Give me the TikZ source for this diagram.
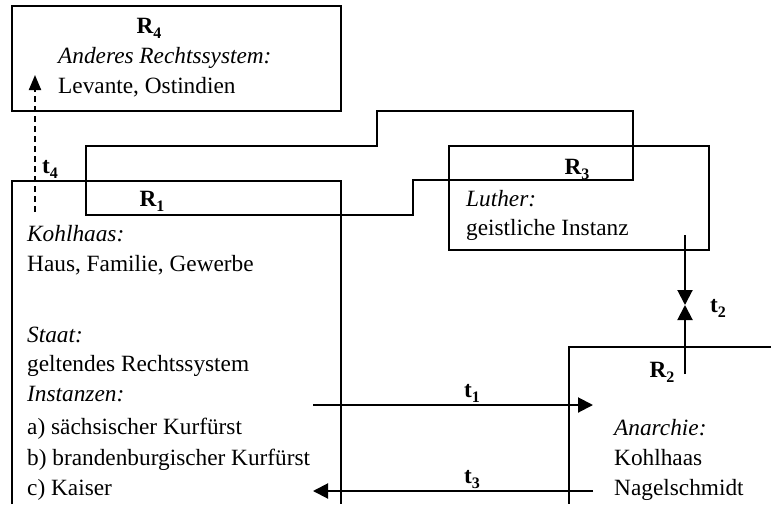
\documentclass[tikz,border=0pt]{standalone}
\usepackage{fontspec}
\setmainfont{Liberation Serif}
\usetikzlibrary{arrows.meta}
\newcommand{\mysub}[1]{\raisebox{-0.22em}{\fontsize{16}{16}\selectfont #1}}
\tikzset{
  boxline/.style={draw=black, line width=1.3pt},
  txt/.style={anchor=base west, inner sep=0pt, font=\fontsize{23.3}{28}\selectfont},
  lbl/.style={anchor=base, inner sep=0pt, font=\fontsize{23.3}{28}\selectfont\bfseries},
  tlbl/.style={anchor=base west, inner sep=0pt, font=\fontsize{23.3}{28}\selectfont\bfseries},
  arr/.style={line width=2pt, -{Triangle[length=15pt,width=15pt]}},
  darr/.style={line width=2pt, dash pattern=on 6pt off 4pt, -{Triangle[length=15pt,width=12pt]}}
}
\begin{document}
\begin{tikzpicture}[x=1pt,y=-1pt]
\useasboundingbox (0,0) rectangle (771,504);
% boxes
\draw[boxline] (12,6) rectangle (341,111);
\draw[boxline] (12,504) -- (12,181) -- (341,181) -- (341,504);
\draw[boxline] (86,146) -- (377,146) -- (377,111) -- (633,111) -- (633,180) -- (413,180) -- (413,215) -- (86,215) -- cycle;
\draw[boxline] (449,146) rectangle (709,250);
\draw[boxline] (771,347) -- (569,347) -- (569,504);
% R4
\node[lbl] (r4) at (149,33) {R\mysub{4}};
\node[txt] (r4a) at (58,63) {\itshape Anderes Rechtssystem:};
\node[txt] (r4b) at (58,93) {Levante, Ostindien};
% R1
\node[lbl] (r1) at (152,206) {R\mysub{1}};
\node[txt] (k1) at (27,241) {\itshape Kohlhaas:};
\node[txt] (k2) at (27,271) {Haus, Familie, Gewerbe};
\node[txt] (s1) at (27,342) {\itshape Staat:};
\node[txt] (s2) at (27,371) {geltendes Rechtssystem};
\node[txt] (s3) at (27,401) {\itshape Instanzen:};
\node[txt] (s4) at (27,434) {a) sächsischer Kurfürst};
\node[txt] (s5) at (27,465) {b) brandenburgischer Kurfürst};
\node[txt] (s6) at (27,495) {c) Kaiser};
% R3
\node[lbl] (r3) at (577,174) {R\mysub{3}};
\node[txt] (l1) at (466,206) {\itshape Luther:};
\node[txt] (l2) at (466,235) {geistliche Instanz};
% R2
\node[lbl] (r2) at (662,377) {R\mysub{2}};
\node[txt] (a1) at (614,435) {\itshape Anarchie:};
\node[txt] (a2) at (614,465) {Kohlhaas};
\node[txt] (a3) at (614,495) {Nagelschmidt};
% connector end points
\coordinate (t1s) at (313,405);
\coordinate (t1e) at (593,405);
\coordinate (t3s) at (593,491);
\coordinate (t3e) at (313,491);
\coordinate (t2a) at (685,235);
\coordinate (t2m) at (685,305);
\coordinate (t2b) at (685,374);
\coordinate (t4s) at (35,212);
\coordinate (t4e) at (35,75);
\draw[arr] (t1s) -- (t1e);
\draw[arr] (t3s) -- (t3e);
\draw[arr] (t2a) -- (t2m);
\draw[arr] (t2b) -- (t2m);
\draw[darr] (t4s) -- (t4e);
% labels
\node[lbl] (t1) at (472,397) {t\mysub{1}};
\node[lbl] (t3) at (472,483) {t\mysub{3}};
\node[tlbl] (t2) at (710,312) {t\mysub{2}};
\node[tlbl] (t4) at (42,173) {t\mysub{4}};
\end{tikzpicture}
\end{document}
